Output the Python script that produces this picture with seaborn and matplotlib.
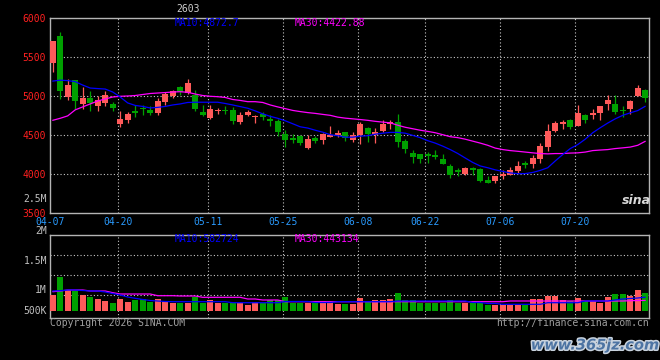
import numpy as np
import pandas as pd
import matplotlib
matplotlib.use('Agg')
import matplotlib.pyplot as plt
import matplotlib.patheffects as pe
import seaborn as sns

#######################################################
### DATA
#######################################################
holidays = ['2026-05-01', '2026-05-04', '2026-05-05', '2026-06-19']
dates = pd.bdate_range('2026-04-07', '2026-07-31', freq='C', holidays=holidays)

open_ = [5427, 5769, 4991, 5205, 4897, 4978, 4876, 4919, 4906, 4641,
         4692, 4808, 4855, 4829, 4786, 4927, 5004, 5119, 5042, 5013,
         4795, 4722, 4812, 4825, 4829, 4671, 4765, 4735, 4769, 4705,
         4688, 4513, 4466, 4487, 4337, 4466, 4436, 4478, 4500, 4543,
         4436, 4504, 4599, 4509, 4555, 4650, 4667, 4423, 4273, 4256,
         4256, 4243, 4201, 4103, 4051, 4000, 4086, 4073, 3932, 3914,
         3974, 3996, 4043, 4145, 4137, 4192, 4350, 4555, 4650, 4701,
         4620, 4756, 4765, 4786, 4897, 4906, 4820, 4842, 5000, 5077]
high = [5710, 5824, 5227, 5214, 5119, 5064, 5004, 5064, 4927, 4808,
        4799, 4885, 4885, 4876, 4983, 5056, 5086, 5132, 5218, 5086,
        4885, 4885, 4855, 4876, 4863, 4799, 4820, 4765, 4799, 4765,
        4714, 4573, 4513, 4500, 4500, 4487, 4530, 4615, 4564, 4543,
        4543, 4671, 4607, 4594, 4692, 4701, 4769, 4457, 4316, 4256,
        4286, 4316, 4265, 4137, 4086, 4094, 4090, 4086, 3974, 3979,
        4051, 4094, 4171, 4171, 4243, 4402, 4641, 4679, 4701, 4714,
        4885, 4769, 4842, 4872, 5013, 5013, 4872, 4957, 5141, 5098]
low = [5312, 4970, 4949, 4842, 4842, 4812, 4812, 4876, 4812, 4607,
       4663, 4735, 4765, 4765, 4756, 4885, 4983, 5017, 5035, 4812,
       4743, 4714, 4769, 4778, 4650, 4650, 4750, 4658, 4701, 4615,
       4487, 4350, 4406, 4372, 4320, 4402, 4385, 4478, 4478, 4427,
       4415, 4393, 4415, 4402, 4543, 4586, 4350, 4273, 4145, 4145,
       4145, 4201, 4128, 3958, 3979, 3991, 3996, 3901, 3893, 3888,
       3944, 3987, 4017, 4086, 4086, 4150, 4299, 4542, 4586, 4586,
       4615, 4658, 4714, 4701, 4829, 4769, 4735, 4778, 5000, 4927]
close = [5705, 5068, 5150, 4940, 4978, 4919, 4949, 5013, 4850, 4714,
         4769, 4791, 4833, 4791, 4936, 5035, 5064, 5060, 5167, 4833,
         4756, 4833, 4829, 4812, 4679, 4756, 4799, 4752, 4735, 4683,
         4542, 4436, 4445, 4402, 4449, 4427, 4513, 4509, 4535, 4470,
         4509, 4650, 4522, 4543, 4641, 4671, 4415, 4320, 4222, 4192,
         4235, 4222, 4137, 3987, 4026, 4086, 4060, 3914, 3893, 3974,
         4004, 4060, 4103, 4124, 4209, 4359, 4555, 4658, 4671, 4607,
         4786, 4692, 4786, 4872, 4957, 4795, 4808, 4936, 5111, 4983]
ma10 = [5195, 5207, 5201, 5188, 5144, 5106, 5099, 5093, 5055, 4991,
        4915, 4883, 4870, 4851, 4858, 4870, 4889, 4902, 4921, 4924,
        4924, 4924, 4924, 4908, 4889, 4868, 4847, 4813, 4775, 4743,
        4718, 4686, 4648, 4609, 4593, 4565, 4540, 4508, 4495, 4476,
        4476, 4489, 4495, 4514, 4527, 4537, 4537, 4527, 4499, 4470,
        4431, 4400, 4361, 4317, 4267, 4209, 4152, 4107, 4084, 4057,
        4037, 4018, 4008, 4009, 4024, 4050, 4084, 4171, 4253, 4330,
        4381, 4450, 4533, 4597, 4657, 4711, 4756, 4788, 4817, 4872]
ma30 = [4692, 4718, 4749, 4826, 4864, 4902, 4940, 4966, 4991, 5000,
        5004, 5010, 5023, 5036, 5042, 5048, 5055, 5059, 5051, 5029,
        5010, 5000, 4995, 4985, 4959, 4947, 4931, 4931, 4921, 4889,
        4864, 4842, 4819, 4804, 4791, 4781, 4768, 4756, 4733, 4720,
        4711, 4702, 4692, 4679, 4669, 4660, 4629, 4603, 4584, 4565,
        4550, 4533, 4508, 4482, 4470, 4450, 4425, 4400, 4372, 4336,
        4317, 4304, 4295, 4285, 4275, 4266, 4262, 4266, 4266, 4272,
        4275, 4285, 4304, 4311, 4317, 4330, 4339, 4349, 4372, 4423]
volume = [674, 1430, 889, 846, 674, 602, 502, 416, 344, 502,
          387, 459, 487, 387, 502, 387, 344, 344, 344, 602,
          344, 459, 315, 344, 315, 315, 244, 387, 315, 459,
          459, 602, 344, 344, 344, 344, 416, 390, 287, 287,
          287, 530, 416, 459, 459, 502, 760, 459, 459, 344,
          344, 344, 344, 459, 344, 344, 315, 315, 244, 244,
          244, 244, 244, 244, 502, 502, 631, 631, 459, 416,
          530, 416, 416, 344, 573, 717, 717, 631, 889, 760]  # thousands
vol_ma10 = [847, 860, 890, 890, 869, 847, 847, 804, 740, 675,
            589, 533, 482, 439, 417, 396, 387, 387, 387, 387,
            387, 387, 387, 387, 344, 344, 344, 344, 344, 344,
            344, 396, 396, 396, 396, 353, 353, 353, 387, 387,
            387, 387, 387, 387, 387, 387, 417, 417, 417, 417,
            417, 417, 417, 417, 417, 417, 353, 353, 310, 310,
            275, 275, 275, 275, 275, 275, 344, 344, 344, 344,
            344, 417, 417, 417, 417, 460, 503, 525, 546, 583]
vol_ma30 = [817, 847, 890, 890, 890, 847, 847, 847, 774, 718,
            718, 718, 718, 718, 645, 645, 645, 632, 632, 632,
            576, 576, 576, 576, 576, 576, 503, 503, 460, 460,
            460, 387, 387, 387, 387, 387, 387, 387, 387, 387,
            387, 387, 387, 387, 387, 387, 387, 387, 387, 387,
            387, 387, 387, 387, 387, 387, 387, 387, 387, 387,
            387, 417, 417, 417, 417, 417, 417, 417, 417, 417,
            417, 417, 417, 417, 417, 417, 417, 430, 437, 443]

tick_labels = ['04-07', '04-20', '05-11', '05-25', '06-08', '06-22', '07-06', '07-20']
price_ticks = [3500, 4000, 4500, 5000, 5500, 6000]

df = pd.DataFrame({'date': dates, 'open': open_, 'high': high, 'low': low,
                   'close': close, 'ma10': ma10, 'ma30': ma30,
                   'vol': np.array(volume) * 1000,
                   'vma10': np.array(vol_ma10) * 1000,
                   'vma30': np.array(vol_ma30) * 1000})
df['i'] = np.arange(len(df))
df['up'] = df['close'] >= df['open']
tick_idx = [int(df.index[df['date'].dt.strftime('%m-%d') == t][0]) for t in tick_labels]

#######################################################
### STYLE
#######################################################
RED = '#ff5a5a'
GREEN = '#00a000'
GRID = '#c8c8c8'
FRAME = '#b4b4b4'
MONO = 'DejaVu Sans Mono'
W, H = 660, 360

sns.set_style('dark', {'axes.facecolor': 'black', 'figure.facecolor': 'black'})
plt.rcParams['font.family'] = [MONO, 'DejaVu Sans']

fig = plt.figure(figsize=(6.6, 3.6), dpi=100)
ax = fig.add_axes([50 / W, 1 - 213.3 / H, 599 / W, 195 / H])
axv = fig.add_axes([50 / W, 1 - 318 / H, 599 / W, 83 / H])
xlim = (-0.36, 79.5)

def px(x, y):
    return x / W, 1 - y / H

#######################################################
### PRICE PANEL
#######################################################
colors = np.where(df['up'], RED, GREEN)
ax.vlines(df['i'], df['low'], df['high'], colors=colors, lw=0.9, zorder=3)
body = (df['close'] - df['open']).abs().clip(lower=12)
ax.bar(df['i'], body, bottom=np.minimum(df['open'], df['close']), width=0.8,
       color=colors, linewidth=0, zorder=3)
sns.lineplot(x=df['i'], y=df['ma30'], ax=ax, color='#ff00ff', lw=0.9, zorder=4)
sns.lineplot(x=df['i'], y=df['ma10'], ax=ax, color='#0000ff', lw=0.9, zorder=4)

for p in price_ticks[1:-1]:
    ax.axhline(p, color=GRID, lw=0.8, ls=(0, (1, 2)), zorder=1)
for t in tick_idx[1:]:
    ax.axvline(t - 0.3, color=GRID, lw=0.8, ls=(0, (1, 2)), zorder=1)

ax.set_xlim(xlim)
ax.set_ylim(3500, 6000)
ax.set_yticks(price_ticks)
ax.set_yticklabels([str(p) for p in price_ticks], color='#ff2020', fontsize=7, family=MONO)
ax.set_xticks([t - 0.3 for t in tick_idx])
ax.set_xticklabels(tick_labels, color='#2a9bff', fontsize=7, family=MONO)
ax.tick_params(axis='both', length=0, pad=3)
ax.set_xlabel('')
ax.set_ylabel('')
ax.grid(False)

#######################################################
### VOLUME PANEL
#######################################################
sns.barplot(data=df, x='i', y='vol', hue='up', palette={True: RED, False: GREEN},
            dodge=False, native_scale=True, width=0.8, saturation=1,
            legend=False, linewidth=0, ax=axv, zorder=3)
sns.lineplot(x=df['i'], y=df['vma30'], ax=axv, color='#ff00ff', lw=0.9, zorder=4)
sns.lineplot(x=df['i'], y=df['vma10'], ax=axv, color='#0000ff', lw=0.9, zorder=4)
for f in [(318 - 255) / 83, (318 - 275) / 83, (318 - 295) / 83]:
    axv.plot([0, 1], [f, f], transform=axv.transAxes, color=GRID, lw=0.8, ls=(0, (1, 2)), zorder=1)
for t in tick_idx[1:]:
    axv.axvline(t - 0.3, color=GRID, lw=0.8, ls=(0, (1, 2)), zorder=1)
vpp = 43000  # volume per pixel
axv.set_xlim(xlim)
axv.set_ylim(-(318 - 310.7) * vpp, (310.7 - 235) * vpp)
axv.set_xticks([])
axv.set_yticks([])
axv.set_xlabel('')
axv.set_ylabel('')
axv.grid(False)

for a in (ax, axv):
    for s in a.spines.values():
        s.set_visible(True)
        s.set_color(FRAME)
        s.set_linewidth(1)

#######################################################
### TEXTS
#######################################################
for lab, y in [('2.5M', 199), ('2M', 231), ('1.5M', 261), ('1M', 290), ('500K', 311)]:
    fig.text(*px(47, y), lab, color='#c0c0c0', fontsize=7, family=MONO, ha='right', va='center')

fig.text(*px(175, 23.5), 'MA10:4872.7', color='#0000ff', fontsize=7, family=MONO, va='center')
fig.text(*px(295, 23.5), 'MA30:4422.88', color='#ff00ff', fontsize=7, family=MONO, va='center')
fig.text(*px(175, 238.5), 'MA10:582724', color='#0000ff', fontsize=7, family=MONO, va='center')
fig.text(*px(295, 238.5), 'MA30:443134', color='#ff00ff', fontsize=7, family=MONO, va='center')
fig.text(*px(188, 9), '2603', color='#d0d0d0', fontsize=7, family=MONO, ha='center', va='center')

fig.text(*px(50, 323.5), 'Copyright 2026 SINA.COM', color='#a0a0a0', fontsize=7, family=MONO, va='center')
fig.text(*px(649, 323.5), 'http://finance.sina.com.cn', color='#a0a0a0', fontsize=7, family=MONO,
         ha='right', va='center')

fig.text(*px(636, 201), 'sina', color='#d8d8d8', fontsize=9, fontweight='bold', style='italic',
         family='DejaVu Sans', ha='center', va='center')
fig.text(*px(595, 345), 'www.365jz.com', color='#4d74a3', fontsize=10.5, fontweight='bold',
         style='italic', family='DejaVu Sans', ha='center', va='center',
         path_effects=[pe.withStroke(linewidth=2.2, foreground='#c9d3de')])

fig.savefig('out.png', dpi=100, facecolor='black')
